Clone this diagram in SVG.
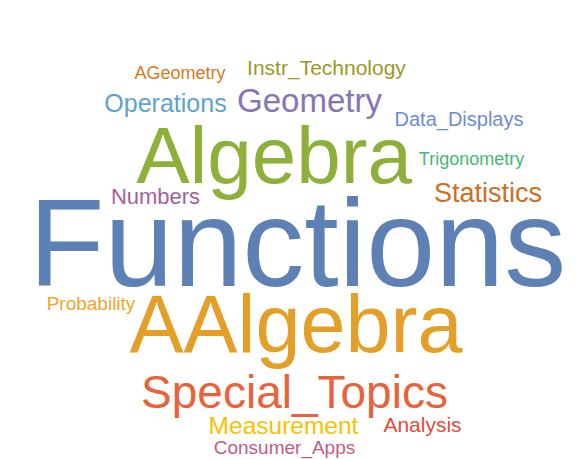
<svg xmlns="http://www.w3.org/2000/svg" width="577" height="459" viewBox="0 0 577 459">
<style>
text{font-family:"Liberation Sans",Arial,Helvetica,sans-serif;text-anchor:middle}
</style>
<rect width="577" height="459" fill="#ffffff"/>
<g id="AGeometry"><text x="180" y="79" font-size="18" fill="#D9791B">AGeometry</text></g>
<g id="Instr_Technology"><text x="326.5" y="75" font-size="21" fill="#9C9A1E">Instr_Technology</text></g>
<g id="Operations"><text x="165.5" y="112" font-size="25" fill="#5DA2D0">Operations</text></g>
<g id="Geometry"><text x="309.5" y="112" font-size="33" fill="#8675B5">Geometry</text></g>
<g id="Data_Displays"><text x="459" y="126" font-size="20" fill="#6D8DD8">Data_Displays</text></g>
<g id="Algebra"><text x="274" y="183" font-size="80" fill="#8DB03A">Algebra</text></g>
<g id="Trigonometry"><text x="471.5" y="165" font-size="18" fill="#45B873">Trigonometry</text></g>
<g id="Statistics"><text x="488" y="202" font-size="27" fill="#CD6F22">Statistics</text></g>
<g id="Numbers"><text x="155.5" y="204" font-size="22" fill="#A45FA0">Numbers</text></g>
<g id="Functions"><text x="297.5" y="286" font-size="124" fill="#5D81B5">Functions</text></g>
<g id="Probability"><text x="91" y="310" font-size="19" fill="#F3A42B">Probability</text></g>
<g id="AAlgebra"><text x="296" y="352" font-size="81" fill="#E39F28">AAlgebra</text></g>
<g id="Special_Topics"><text x="294.5" y="408" font-size="46" fill="#E9623A">Special_Topics</text></g>
<g id="Measurement"><text x="283.5" y="434" font-size="24.5" fill="#F7C200">Measurement</text></g>
<g id="Analysis"><text x="422.5" y="432" font-size="21" fill="#E34A3C">Analysis</text></g>
<g id="Consumer_Apps"><text x="284.5" y="454" font-size="19" fill="#C25B84">Consumer_Apps</text></g>
<g id="connectors"></g>
</svg>
